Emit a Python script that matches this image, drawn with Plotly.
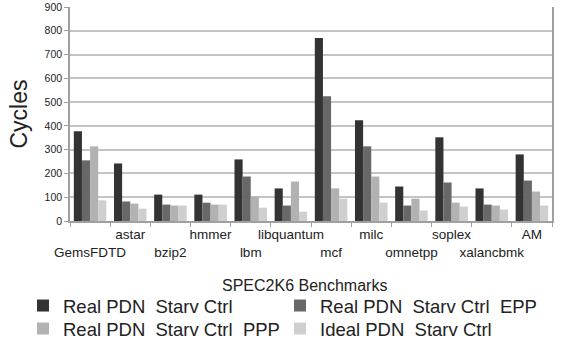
import plotly.graph_objects as go

categories = ["GemsFDTD", "astar", "bzip2", "hmmer", "lbm", "libquantum",
              "mcf", "milc", "omnetpp", "soplex", "xalancbmk", "AM"]
real_starv = [377, 242, 111, 111, 259, 137, 770, 424, 145, 352, 137, 280]
real_starv_epp = [255, 82, 69, 77, 187, 65, 525, 314, 65, 162, 69, 170]
real_starv_ppp = [314, 73, 65, 69, 103, 166, 137, 187, 94, 77, 65, 124]
ideal_starv = [87, 52, 65, 69, 56, 39, 94, 77, 44, 61, 48, 65]
series_names = ["Real PDN\u00a0 Starv Ctrl", "Real PDN\u00a0 Starv Ctrl\u00a0 EPP",
                "Real PDN\u00a0 Starv Ctrl\u00a0 PPP", "Ideal PDN\u00a0 Starv Ctrl"]
y_ticks = [0, 100, 200, 300, 400, 500, 600, 700, 800, 900]

colors = ["#333333", "#686868", "#b2b2b2", "#cfcfcf"]
legend_ids = ["legend", "legend2", "legend3", "legend4"]
FONT = "Liberation Sans, Arial, sans-serif"

# plot area in pixels (used only to place legends / axis title)
PLOT_L, PLOT_R, PLOT_T, PLOT_B = 70, 552, 7, 221
PW, PH = PLOT_R - PLOT_L, PLOT_B - PLOT_T
# legend entry origins (px) : two columns, two rows
LEG_X = [23, 280, 23, 280]
LEG_Y = [306, 306, 329, 329]

# staggered tick labels: odd indices on the top row, even on the bottom row
tick_text = [(c if i % 2 == 1 else " <br>" + c) for i, c in enumerate(categories)]

fig = go.Figure()
for name, vals, col, lg in zip(series_names,
                               [real_starv, real_starv_epp, real_starv_ppp, ideal_starv],
                               colors, legend_ids):
    fig.add_trace(go.Bar(x=categories, y=vals, name=name, legend=lg,
                         marker=dict(color=col, line=dict(width=0))))

legends = {}
for lg, lx, ly in zip(legend_ids, LEG_X, LEG_Y):
    legends[lg] = dict(orientation="h", x=(lx - PLOT_L) / PW, xanchor="left",
                       y=-(ly - PLOT_B) / PH, yanchor="middle",
                       font=dict(size=18.5, family=FONT, color="#222222"),
                       bgcolor="rgba(0,0,0,0)")

fig.update_layout(
    width=561, height=345,
    margin=dict(l=PLOT_L, r=561 - PLOT_R, t=PLOT_T, b=345 - PLOT_B, autoexpand=False),
    paper_bgcolor="white", plot_bgcolor="white",
    barmode="group", bargap=0.19, bargroupgap=0,
    font=dict(family=FONT, color="#222222"),
    showlegend=True,
    annotations=[
        dict(text="SPEC2K6 Benchmarks", xref="paper", yref="paper",
             x=(304 - PLOT_L) / PW, y=-(285 - PLOT_B) / PH, xanchor="center", yanchor="middle",
             showarrow=False, font=dict(size=16, family=FONT, color="#222222")),
    ],
    **legends,
)

fig.update_xaxes(
    tickmode="array", tickvals=categories, ticktext=tick_text,
    tickson="boundaries", ticks="outside", ticklen=4, tickcolor="#a0a0a0",
    showline=True, linecolor="#a0a0a0", linewidth=1.5, automargin=False,
    tickfont=dict(size=13.5, family=FONT, color="#222222"),
    tickangle=0, showgrid=False, mirror=False,
)
fig.update_yaxes(
    range=[0, 900], tickmode="array", tickvals=y_ticks,
    ticks="outside", ticklen=4, tickcolor="#a0a0a0",
    showline=True, linecolor="#a0a0a0", linewidth=1.5, mirror=True, automargin=False,
    showgrid=True, gridcolor="#c4c4c4", gridwidth=1.5,
    tickfont=dict(size=10.5, family=FONT, color="#222222"),
    title=dict(text="Cycles", font=dict(size=23, family=FONT, color="#222222"), standoff=11),
    zeroline=False,
)

fig.write_html("out.html")
